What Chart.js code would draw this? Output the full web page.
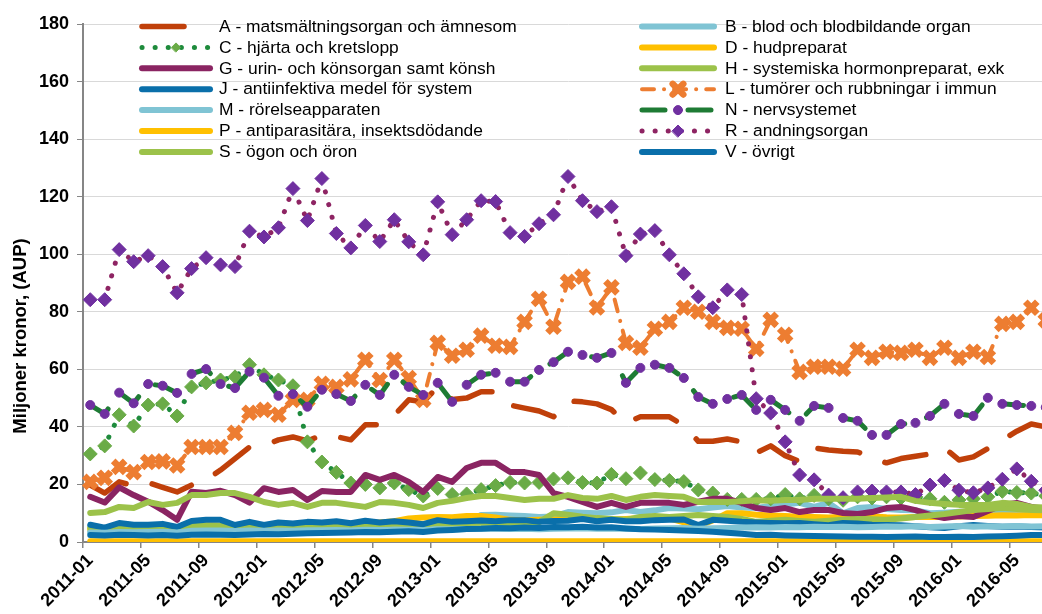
<!DOCTYPE html>
<html>
<head>
<meta charset="utf-8">
<script src="https://cdn.jsdelivr.net/npm/chart.js@4.4.1/dist/chart.umd.min.js"></script>
<style>
  html, body { margin: 0; padding: 0; background: #fff; overflow: hidden; }
  #wrap { position: relative; width: 1075px; height: 614px; }
  canvas { display: block; }
</style>
</head>
<body>
<div id="wrap"><canvas id="chart" width="1075" height="614"></canvas></div>
<script>
// months, 2011-01 .. 2016-07 (the plot runs past the right edge of the picture)
const months = [
  '2011-01','2011-02','2011-03','2011-04','2011-05','2011-06','2011-07','2011-08','2011-09','2011-10','2011-11','2011-12',
  '2012-01','2012-02','2012-03','2012-04','2012-05','2012-06','2012-07','2012-08','2012-09','2012-10','2012-11','2012-12',
  '2013-01','2013-02','2013-03','2013-04','2013-05','2013-06','2013-07','2013-08','2013-09','2013-10','2013-11','2013-12',
  '2014-01','2014-02','2014-03','2014-04','2014-05','2014-06','2014-07','2014-08','2014-09','2014-10','2014-11','2014-12',
  '2015-01','2015-02','2015-03','2015-04','2015-05','2015-06','2015-07','2015-08','2015-09','2015-10','2015-11','2015-12',
  '2016-01','2016-02','2016-03','2016-04','2016-05','2016-06','2016-07'
];

// Miljoner kronor (AUP)
const serA = [19.8,17.0,20.9,19.5,20.7,19.0,17.4,19.8,21.5,25.0, 29.0,33.0,33.4,35.5,36.5,35.1,37.2,36.6,35.5,40.7,
              40.7,44.0,49.4,48.7,53.9,49.5,50.0,52.2,52.2,47.6, 46.5,45.5,43.5,49.0,48.7,48.0,46.0,41.4,43.5,43.5,
              43.5,40.5,35.0,35.0,35.8,34.8,31.0,33.4,30.0,28.0, 32.7,32.0,31.5,31.3,29.2,27.5,29.0,29.8,30.6,32.7,
              28.5,29.6,32.5,35.5,38.5,41.0,40.0];
const serB = [3.8,3.6,4.0,3.9,4.0,4.1,3.8,4.3,4.4,4.4, 4.2,4.4,4.3,4.5,4.4,4.6,4.7,4.8,4.6,5.0,
              5.0,5.2,5.3,5.0,5.5,5.9,6.5,9.4,9.5,9.2, 9.0,8.7,8.9,10.4,10.2,10.0,10.3,11.1,10.4,11.0,
              11.8,11.6,11.4,12.0,12.5,12.0,11.8,12.5,13.0,13.6, 12.2,13.6,10.0,11.8,12.2,11.5,11.1,11.0,10.0,10.2,
              10.5,10.4,10.6,10.4,10.6,10.4,10.5];
const serC = [30.6,33.4,44.2,40.3,47.6,48.0,43.8,53.9,55.3,56.3, 57.4,61.6,58.1,56.3,54.3,34.8,27.8,24.2,20.5,20.0,
              18.8,20.5,18.2,16.0,18.6,16.5,16.7,18.2,19.6,20.7, 20.5,20.7,21.9,22.3,20.7,20.5,23.5,22.0,24.0,21.7,
              21.4,21.0,18.1,17.0,14.8,14.8,14.8,15.0,16.5,15.0, 16.2,15.0,14.5,15.7,15.3,15.7,15.3,15.7,15.0,13.8,
              14.6,15.0,15.7,17.6,17.2,17.0,16.0];
const serD = [4.5,4.2,4.8,4.6,4.6,4.9,4.5,5.6,5.8,5.7, 5.3,5.6,5.3,5.5,5.4,5.8,6.0,6.2,6.0,6.5,
              6.8,7.2,8.2,8.5,8.7,8.6,9.0,9.0,8.5,7.7, 7.5,7.7,7.8,8.0,8.3,8.0,7.8,8.0,8.3,8.4,
              8.2,6.8,5.6,7.5,10.0,10.0,9.5,9.2,9.0,8.8, 8.7,8.5,8.8,9.2,8.9,8.6,8.5,8.7,8.8,8.7,
              8.9,9.0,9.1,9.3,9.2,9.4,9.3];
const serG = [15.7,13.7,19.0,16.3,14.0,11.1,7.7,17.5,17.0,17.8, 16.3,13.7,18.7,17.4,18.1,14.6,17.7,17.4,17.4,23.3,
              21.6,23.3,20.9,17.4,22.6,20.9,25.7,27.5,27.5,24.3, 24.3,23.3,17.0,15.7,13.9,12.2,13.6,12.2,13.6,13.6,
              13.6,12.9,14.0,15.0,15.0,13.6,11.8,11.1,11.8,10.4, 11.1,11.1,10.1,9.7,10.4,11.8,12.2,11.1,9.4,8.3,
              9.0,8.7,10.8,12.9,13.6,12.2,11.5];
const serH = [5.0,4.8,5.2,5.1,5.2,5.3,5.0,5.6,5.7,5.6, 5.4,5.7,5.5,5.8,5.6,5.9,6.0,6.1,5.9,6.2,
              6.1,6.3,6.4,6.2,6.5,6.4,6.6,6.7,6.6,6.5, 6.7,6.9,10.0,9.5,8.8,8.3,8.0,7.7,8.7,9.0,
              8.7,9.0,9.4,9.0,8.7,8.0,7.0,7.4,7.7,7.3, 7.0,7.4,7.7,8.0,7.9,7.7,8.2,8.7,9.2,9.7,
              10.4,11.1,11.5,11.8,11.5,11.1,11.0];
const serJ = [6.0,5.0,6.6,6.0,6.0,6.3,5.2,7.3,7.7,7.7, 5.9,7.0,5.9,6.8,6.4,7.0,6.8,7.2,6.5,7.4,
              6.8,7.2,6.8,6.2,7.6,7.0,7.2,7.5,7.2,7.6, 7.6,7.0,7.3,7.4,8.0,7.2,7.7,7.2,7.2,7.6,
              7.7,7.8,5.9,7.7,7.4,7.0,6.8,6.6,6.5,6.6, 6.2,5.8,6.6,6.4,6.0,5.9,5.8,5.5,5.1,4.9,
              5.5,5.9,5.6,5.3,5.4,5.2,5.0];
const serL = [20.9,22.3,26.1,24.3,27.8,28.0,26.6,33.0,33.0,33.0, 37.9,44.9,45.9,44.2,49.4,49.4,55.0,53.9,56.5,63.3,
              56.3,63.3,57.0,49.4,69.2,64.7,66.8,71.7,68.2,67.8, 76.5,84.5,74.8,90.4,92.2,81.5,88.5,69.2,67.5,74.1,
              76.5,81.4,80.0,76.5,74.4,74.1,67.1,77.2,72.0,59.1, 60.9,60.9,60.2,66.8,64.0,66.1,65.7,66.8,64.0,67.5,
              64.0,66.1,64.3,75.8,76.5,81.4,77.0];
const serM = [3.3,3.2,3.5,3.4,3.5,3.6,3.3,3.9,4.0,4.0, 3.8,4.0,3.9,4.0,3.9,4.1,4.1,4.2,4.0,4.3,
              4.2,4.3,4.2,4.0,4.4,4.3,4.5,4.6,4.6,4.5, 4.6,4.4,4.6,4.7,4.8,4.6,4.7,4.6,4.5,4.7,
              4.8,4.9,4.6,4.8,4.9,5.0,5.1,5.0,5.2,5.1, 5.3,5.2,5.3,5.1,5.2,5.4,5.3,5.5,5.2,5.4,
              5.6,5.3,5.5,5.4,5.6,5.4,5.5];
const serN = [47.6,44.5,51.9,48.2,54.9,54.3,51.8,58.4,60.1,54.9, 53.5,59.2,57.1,50.8,51.4,47.0,52.9,51.4,49.0,54.6,
              51.1,58.1,53.9,51.1,55.3,48.7,54.6,58.1,58.8,55.7, 55.7,59.8,62.5,66.1,65.0,64.0,65.7,55.3,60.5,61.6,
              60.5,57.0,50.4,48.0,49.7,51.1,45.9,49.4,45.9,42.1, 47.3,46.6,43.1,42.1,37.2,37.2,41.0,41.4,43.8,48.0,
              44.5,43.8,50.1,48.0,47.6,47.3,46.8];
const serP = [0.3,0.3,0.3,0.3,0.3,0.3,0.3,0.3,0.3,0.3, 0.3,0.3,0.3,0.3,0.3,0.3,0.3,0.3,0.3,0.3,
              0.3,0.3,0.3,0.3,0.3,0.3,0.3,0.3,0.3,0.3, 0.3,0.3,0.3,0.3,0.3,0.3,0.3,0.3,0.3,0.3,
              0.3,0.3,0.3,0.3,0.3,0.3,0.3,0.3,0.3,0.3, 0.3,0.3,0.3,0.3,0.3,0.3,0.3,0.3,0.3,0.3,
              0.3,0.3,0.3,0.3,0.3,0.3,0.3];
const serR = [84.2,84.2,101.6,97.4,99.5,95.7,86.6,95.0,98.8,96.3, 95.7,108.0,106.0,109.2,122.8,111.7,126.3,107.2,102.2,110.0,
              104.4,112.0,104.3,99.8,118.2,106.8,112.0,118.6,118.3,107.5, 106.2,110.6,113.7,127.0,118.6,114.8,116.5,99.5,107.0,108.2,
              99.8,93.2,85.2,81.4,87.6,86.0,49.8,44.8,34.8,23.3, 21.6,16.3,15.4,17.4,17.7,17.4,17.4,16.5,19.8,21.4,
              18.0,17.1,18.8,21.8,25.4,21.1,18.0];
const serS = [10.1,10.4,12.2,11.8,13.9,12.9,13.6,16.3,16.3,17.0, 17.0,15.7,13.9,12.9,13.6,12.2,13.6,13.6,12.9,12.2,
              13.9,13.6,12.9,11.8,13.6,14.3,15.3,16.0,16.0,15.3, 14.6,15.0,15.0,16.3,15.3,15.0,16.0,14.6,15.7,16.3,
              16.0,15.7,13.9,14.0,13.9,14.2,14.5,14.3,14.6,14.6, 15.0,15.0,15.0,15.0,15.3,15.5,15.7,14.3,13.6,13.2,
              12.9,12.9,12.9,13.6,13.2,12.2,12.0];
const serV = [2.4,2.3,2.5,2.4,2.3,2.4,2.2,2.5,2.6,2.5, 2.4,2.6,2.8,2.7,2.9,3.0,3.1,3.2,3.3,3.5,
              3.4,3.6,3.7,3.5,4.0,4.2,4.5,4.6,4.9,4.8, 5.0,4.9,5.2,5.1,5.3,5.0,5.1,4.7,4.4,4.3,
              4.2,4.0,3.8,3.6,3.2,2.9,2.4,2.5,2.3,2.2, 2.1,2.0,1.9,1.8,1.8,1.7,1.8,1.9,1.7,1.7,
              1.8,1.7,1.9,2.0,2.2,2.4,2.4];

const FONT = "'Liberation Sans', Arial, sans-serif";
const AXIS_GREY = '#868686';

function solid(label, data, color) {
  return { label, data, borderColor: color, backgroundColor: color, borderWidth: 6,
           borderCapStyle: 'round', borderJoinStyle: 'round', pointRadius: 0 };
}

const datasets = [
  { label: 'A - matsmältningsorgan och ämnesom', data: serA, borderColor: '#C0400A', borderWidth: 5.5,
    borderDash: [42, 27], borderCapStyle: 'round', borderJoinStyle: 'round', pointRadius: 0 },
  solid('B - blod och blodbildande organ', serB, '#80C4D4'),
  { label: 'C - hjärta och kretslopp', data: serC, borderColor: '#1E8B3C', borderWidth: 5,
    borderDash: [0.1, 13], borderCapStyle: 'round', borderJoinStyle: 'round',
    pointStyle: 'rectRot', pointRadius: 7, pointBackgroundColor: '#6AAB47', pointBorderColor: '#6AAB47', pointBorderWidth: 1,
    legendRadius: 4.5 },
  solid('D - hudpreparat', serD, '#FFC000'),
  solid('G - urin- och könsorgan samt könsh', serG, '#8A2462'),
  solid('H - systemiska hormonpreparat, exk', serH, '#9CC24A'),
  solid('J - antiinfektiva medel för system', serJ, '#0A6FAA'),
  { label: 'L - tumörer och rubbningar i immun', data: serL, borderColor: '#ED7D31', borderWidth: 4,
    borderDash: [12, 10, 0.1, 10], borderCapStyle: 'round', borderJoinStyle: 'round',
    pointStyle: 'crossRot', pointRadius: 8.5, pointBorderColor: '#ED7D31', pointBackgroundColor: '#ED7D31', pointBorderWidth: 6.5,
    legendRadius: 7.5 },
  solid('M - rörelseapparaten', serM, '#80C4D4'),
  { label: 'N - nervsystemet', data: serN, borderColor: '#1E7B34', borderWidth: 5,
    borderDash: [23, 23], borderCapStyle: 'round', borderJoinStyle: 'round',
    pointStyle: 'circle', pointRadius: 4.5, pointBackgroundColor: '#7030A0', pointBorderColor: '#7030A0', pointBorderWidth: 1,
    legendRadius: 4.5 },
  solid('P - antiparasitära, insektsdödande', serP, '#FFC000'),
  { label: 'R - andningsorgan', data: serR, borderColor: '#8E2463', borderWidth: 5,
    borderDash: [0.1, 13], borderCapStyle: 'round', borderJoinStyle: 'round',
    pointStyle: 'rectRot', pointRadius: 7, pointBackgroundColor: '#7030A0', pointBorderColor: '#7030A0', pointBorderWidth: 1,
    legendRadius: 6 },
  solid('S - ögon och öron', serS, '#9CC24A'),
  solid('V - övrigt', serV, '#0A6FAA')
];
// Excel draws later series on top
datasets.forEach((d, i) => { d.order = datasets.length - i; d.tension = 0; d.pointHoverRadius = 0; });

// two-column legend drawn over the plot, like the original
const legendPlugin = {
  id: 'twoColLegend',
  afterDraw(chart) {
    const ctx = chart.ctx;
    const cols = [{ x0: 142, x1: 210, tx: 219 }, { x0: 642, x1: 714, tx: 725 }];
    chart.data.datasets.forEach((ds, k) => {
      const col = cols[k % 2];
      const y = 26.5 + Math.floor(k / 2) * 20.9;
      ctx.save();
      ctx.strokeStyle = ds.borderColor;
      ctx.lineWidth = ds.borderWidth;
      ctx.lineCap = ds.borderCapStyle || 'round';
      ctx.setLineDash(ds.borderDash || []);
      ctx.beginPath();
      ctx.moveTo(col.x0, y);
      ctx.lineTo(col.x1, y);
      ctx.stroke();
      ctx.setLineDash([]);
      if (ds.pointRadius > 0) {
        ctx.fillStyle = ds.pointBackgroundColor;
        ctx.strokeStyle = ds.pointBorderColor;
        ctx.lineWidth = ds.pointBorderWidth;
        Chart.helpers.drawPoint(ctx, { pointStyle: ds.pointStyle, rotation: 0,
          radius: ds.legendRadius, borderWidth: ds.pointBorderWidth }, (col.x0 + col.x1) / 2, y);
      }
      ctx.fillStyle = '#000';
      ctx.font = '17.4px ' + FONT;
      ctx.textBaseline = 'middle';
      ctx.textAlign = 'left';
      ctx.fillText(ds.label, col.tx, y + 0.5);
      ctx.restore();
    });
  }
};

// y-axis title sits lower than the plot centre in the original
const yTitlePlugin = {
  id: 'yTitle',
  afterDraw(chart) {
    const ctx = chart.ctx;
    ctx.save();
    ctx.translate(21, 336);
    ctx.rotate(-Math.PI / 2);
    ctx.font = 'bold 18.5px ' + FONT;
    ctx.fillStyle = '#000';
    ctx.textAlign = 'center';
    ctx.textBaseline = 'middle';
    ctx.fillText('Miljoner kronor, (AUP)', 0, 0);
    ctx.restore();
  }
};

new Chart(document.getElementById('chart'), {
  type: 'line',
  data: { labels: months, datasets },
  options: {
    responsive: false,
    devicePixelRatio: 1,
    animation: false,
    events: [],
    layout: { padding: { left: 0, right: 22, top: 24, bottom: 0 } },
    plugins: { legend: { display: false }, tooltip: { enabled: false } },
    scales: {
      x: {
        type: 'category',
        offset: true,
        grid: {
          offset: true, drawOnChartArea: false, drawTicks: true, tickLength: 6, lineWidth: 1.5,
          tickColor: c => (c.index % 4 === 0 ? AXIS_GREY : 'rgba(0,0,0,0)')
        },
        border: { color: AXIS_GREY, width: 2 },
        ticks: {
          autoSkip: false, maxRotation: 45, minRotation: 45, padding: 2, color: '#000',
          font: { family: FONT, size: 18, weight: 'bold' },
          callback: (v, i) => (i % 4 === 0 ? months[i] : '')
        },
        afterFit: s => { s.height = 72; }
      },
      y: {
        min: 0, max: 180,
        grid: { color: '#D9D9D9', lineWidth: 1, tickLength: 6, tickColor: AXIS_GREY },
        border: { color: AXIS_GREY, width: 2 },
        ticks: { stepSize: 20, padding: 8, color: '#000', font: { family: FONT, size: 18, weight: 'bold' } },
        afterFit: s => { s.width = 83; }
      }
    }
  },
  plugins: [legendPlugin, yTitlePlugin]
});
</script>
</body>
</html>
